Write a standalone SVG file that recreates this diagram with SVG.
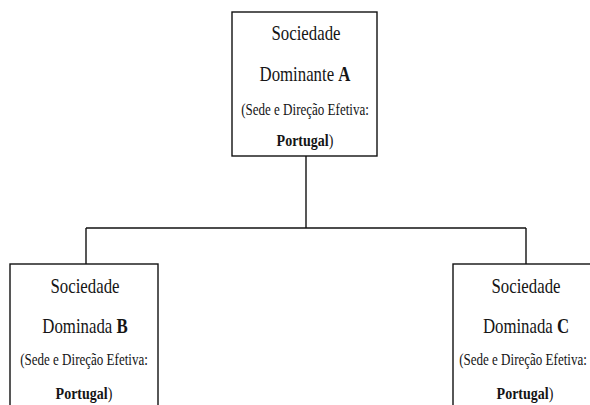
<svg xmlns="http://www.w3.org/2000/svg" width="590" height="405" viewBox="0 0 590 405">
  <style>
    .box { fill: #ffffff; stroke: #111111; stroke-width: 1.4; }
    .link { fill: none; stroke: #111111; stroke-width: 1.4; }
    .t { font-family: "Liberation Serif", "Times New Roman", serif; fill: #151515; text-anchor: middle; }
    .big { font-size: 21px; }
    .small { font-size: 16.5px; }
    .b { font-weight: bold; }
  </style>
  <rect width="590" height="405" fill="#ffffff"/>

  <!-- connectors -->
  <g id="connectors">
    <path class="link" d="M306 156 V228"/>
    <path class="link" d="M86 228 H526"/>
    <path class="link" d="M86 228 V264"/>
    <path class="link" d="M526 228 V264"/>
  </g>

  <!-- parent company -->
  <g id="node-a">
    <rect class="box" x="232" y="12" width="145" height="144"/>
    <text class="t big" transform="translate(306 40) scale(0.8 1)">Sociedade</text>
    <text class="t big" transform="translate(305 81) scale(0.8 1)">Dominante <tspan class="b">A</tspan></text>
    <text class="t small" transform="translate(305 115) scale(0.79 1)">(Sede e Direção Efetiva:</text>
    <text class="t small" transform="translate(305 146) scale(0.85 1)"><tspan class="b">Portugal</tspan>)</text>
  </g>

  <!-- subsidiary B -->
  <g id="node-b">
    <rect class="box" x="10" y="264" width="148" height="160"/>
    <text class="t big" transform="translate(85 293) scale(0.8 1)">Sociedade</text>
    <text class="t big" transform="translate(85 333) scale(0.8 1)">Dominada <tspan class="b">B</tspan></text>
    <text class="t small" transform="translate(84 365) scale(0.79 1)">(Sede e Direção Efetiva:</text>
    <text class="t small" transform="translate(84 399) scale(0.85 1)"><tspan class="b">Portugal</tspan>)</text>
  </g>

  <!-- subsidiary C -->
  <g id="node-c">
    <rect class="box" x="453" y="264" width="148" height="160"/>
    <text class="t big" transform="translate(526 293) scale(0.8 1)">Sociedade</text>
    <text class="t big" transform="translate(526 333) scale(0.8 1)">Dominada <tspan class="b">C</tspan></text>
    <text class="t small" transform="translate(523 365) scale(0.79 1)">(Sede e Direção Efetiva:</text>
    <text class="t small" transform="translate(525 399) scale(0.85 1)"><tspan class="b">Portugal</tspan>)</text>
  </g>
</svg>
